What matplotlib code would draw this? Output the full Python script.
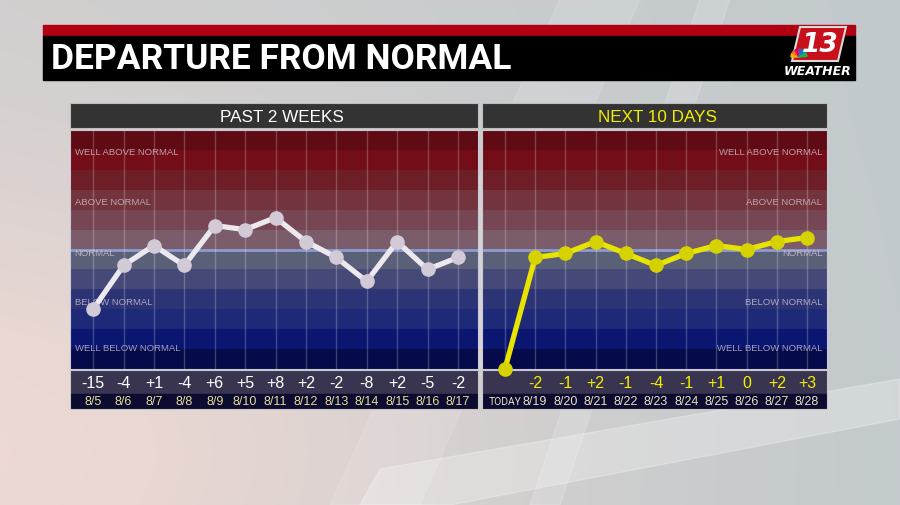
import numpy as np
import matplotlib.pyplot as plt
from matplotlib import font_manager
from matplotlib.patches import Rectangle, Polygon, Wedge

# data
past_dates = ['8/5', '8/6', '8/7', '8/8', '8/9', '8/10', '8/11', '8/12', '8/13', '8/14', '8/15', '8/16', '8/17']
past_vals = [-15, -4, 1, -4, 6, 5, 8, 2, -2, -8, 2, -5, -2]
next_dates = ['TODAY', '8/19', '8/20', '8/21', '8/22', '8/23', '8/24', '8/25', '8/26', '8/27', '8/28']
next_vals = [-30, -2, -1, 2, -1, -4, -1, 1, 0, 2, 3]
next_labels = ['', '-2', '-1', '+2', '-1', '-4', '-1', '+1', '0', '+2', '+3']

band_edges = np.arange(-30, 31, 5)
band_colors = ['#050a4a', '#0a1670', '#1e2a78', '#2c3476', '#464878', '#5a6078',
               '#7a5c6a', '#774654', '#73343e', '#6e1e26', '#730d18', '#600a14']
band_names = ['WELL ABOVE NORMAL', 'ABOVE NORMAL', 'NORMAL', 'BELOW NORMAL', 'WELL BELOW NORMAL']
band_name_y = [24.5, 12, -0.8, -13, -24.5]

names = {f.name for f in font_manager.fontManager.ttflist}
title_font = 'Liberation Sans Narrow' if 'Liberation Sans Narrow' in names else 'Roboto'
plt.rcParams['font.family'] = ['Liberation Sans', 'DejaVu Sans']

W, H = 900, 506
fig = plt.figure(figsize=(W / 100, H / 100), dpi=100)


def box(x0, y0, x1, y1):
    return [x0 / W, 1 - y1 / H, (x1 - x0) / W, (y1 - y0) / H]


# background
bg = fig.add_axes([0, 0, 1, 1])
gx = np.linspace(0, 1, 300)
gy = np.linspace(0, 1, 170)
X, Y = np.meshgrid(gx, gy)
glow = np.exp(-((X - 0.0) ** 2 + (Y - 0.9) ** 2) * 3)
r = 0.81 + 0.12 * glow - 0.05 * X
g = 0.81 + 0.04 * glow - 0.02 * X
b = 0.81 + 0.02 * glow - 0.01 * X
img = np.clip(np.dstack([r, g, b]), 0, 1)
bg.imshow(img, extent=[0, W, H, 0], aspect='auto')
bg.add_patch(Polygon([[560, 0], [640, 0], [420, H], [330, H]], color='white', alpha=0.12))
bg.add_patch(Polygon([[700, 0], [730, 0], [560, H], [530, H]], color='white', alpha=0.15))
bg.add_patch(Polygon([[380, 470], [900, 380], [900, 420], [450, H], [360, H]], color='white', alpha=0.25))
bg.set_xlim(0, W)
bg.set_ylim(H, 0)
bg.axis('off')

# title bar
bg.add_patch(Rectangle((43, 26), 812, 11, color='#b00012'))
bg.add_patch(Rectangle((43, 37), 812, 44, color='#000000'))
bg.text(51, 59, 'DEPARTURE FROM NORMAL', color='white', fontsize=25.5, fontweight='bold',
        family=title_font, va='center', ha='left')

# logo
bg.add_patch(Polygon([[800, 28], [846, 28], [838, 62], [792, 62]], closed=True,
                     facecolor='#c8101c', edgecolor='#d8d8d8', lw=1.5))
bg.text(820, 45, '13', color='white', fontsize=19, fontweight='bold', style='italic',
        ha='center', va='center', family='DejaVu Sans')
for i, c in enumerate(['#f7b400', '#f36f21', '#e2004a', '#6a4c9c', '#0089d0', '#22b24c']):
    bg.add_patch(Wedge((799, 58), 8, 180 + i * 30, 180 + (i + 1) * 30 - 4, color=c))
bg.text(818, 71, 'WEATHER', color='white', fontsize=9, fontweight='bold', style='italic',
        ha='center', va='center', family='DejaVu Sans')


def panel(x0, x1, header, header_color, header_x, dates, vals, labels, line_c, mark_c, val_c, date_c,
          label_side):
    n = len(vals)
    # header
    hax = fig.add_axes(box(x0, 104, x1, 129))
    hax.set_facecolor('#333333')
    hax.set_xticks([])
    hax.set_yticks([])
    for s in hax.spines.values():
        s.set_color('#bdbdbd')
        s.set_linewidth(0.8)
    hax.text(header_x, 0.45, header, color=header_color, fontsize=12.3, ha='center', va='center',
             transform=hax.transAxes)

    # value / date rows
    rax = fig.add_axes(box(x0, 371, x1, 410))
    lo = -0.76
    hi = (n - 1) + 0.66
    rax.set_xlim(lo, hi)
    rax.set_ylim(39, 0)
    rax.add_patch(Rectangle((lo, 0), hi - lo, 24, color='#39344f'))
    rax.add_patch(Rectangle((lo, 24), hi - lo, 15, color='#0c0b30'))
    for i in range(n):
        rax.text(i, 12.5, labels[i], color=val_c, fontsize=11.5, ha='center', va='center')
        if dates[i] == 'TODAY':
            rax.text(i, 31.5, dates[i], color=date_c, fontsize=7.5, ha='center', va='center',
                     family=title_font)
        else:
            rax.text(i, 31.5, dates[i], color=date_c, fontsize=9, ha='center', va='center')
    rax.set_xticks([])
    rax.set_yticks([])
    for s in rax.spines.values():
        s.set_color('#c8c8c8')
        s.set_linewidth(0.8)

    # chart
    ax = fig.add_axes(box(x0, 131, x1, 370))
    ax.set_zorder(3)
    for i in range(len(band_colors)):
        ax.axhspan(band_edges[i], band_edges[i + 1], color=band_colors[i], lw=0)
    ax.axhline(0, color='#8c9cd0', lw=2)
    for i in range(n):
        ax.axvline(i, color='white', alpha=0.22, lw=1)
    for name, yv in zip(band_names, band_name_y):
        if label_side == 'left':
            ax.text(lo + 0.15, yv, name, color='#ccc4d0', alpha=0.8, fontsize=6.8, va='center', ha='left')
        else:
            ax.text(hi - 0.15, yv, name, color='#ccc4d0', alpha=0.8, fontsize=6.8, va='center', ha='right')
    ax.plot(range(n), vals, color=line_c, lw=3.8, marker='o', ms=9.5, mfc=mark_c, mec=mark_c,
            solid_capstyle='round', clip_on=False, zorder=5)
    ax.set_xlim(lo, hi)
    ax.set_ylim(-30, 30)
    ax.set_xticks([])
    ax.set_yticks([])
    for s in ax.spines.values():
        s.set_color('#c8c8d8')
        s.set_linewidth(0.8)
    return ax


past_labels = [('+%d' % v) if v > 0 else str(v) for v in past_vals]
panel(70, 478, 'PAST 2 WEEKS', 'white', 0.52, past_dates, past_vals, past_labels,
      '#ece8ee', '#d2cad6', 'white', '#e6dc9a', 'left')
panel(482, 827, 'NEXT 10 DAYS', '#f2ee00', 0.51, next_dates, next_vals, next_labels,
      '#e8e400', '#d6d200', '#f2ee00', '#e8e0c0', 'right')

fig.savefig('out.png', dpi=100)
